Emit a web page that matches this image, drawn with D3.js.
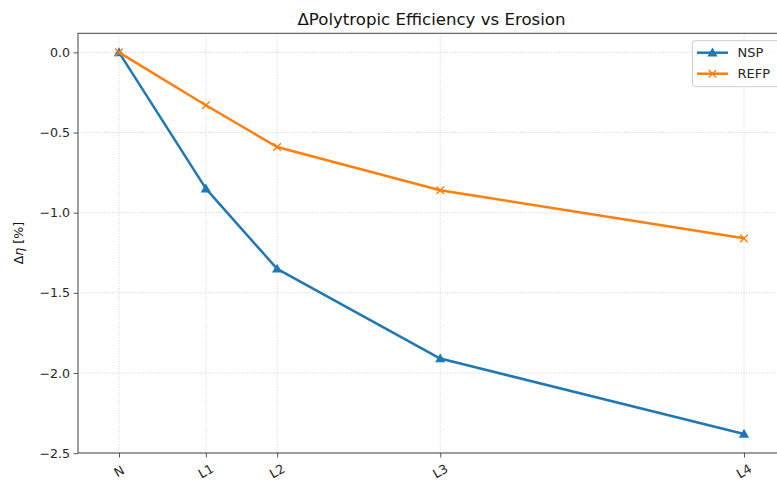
<!DOCTYPE html>
<html>
<head>
<meta charset="utf-8">
<script src="https://cdn.jsdelivr.net/npm/d3@7"></script>
<style>
  html, body { margin: 0; padding: 0; background: #fff; }
  svg { display: block; font-family: "DejaVu Sans", sans-serif; }
</style>
</head>
<body>
<svg id="chart" width="777" height="481"></svg>
<script>
// Erosion stages and their relative position along the erosion axis
const stages = ["N", "L1", "L2", "L3", "L4"];
const erosionLevel = [0, 0.139, 0.253, 0.514, 1.0];

// Change in polytropic efficiency [%]
const nspDelta = [0, -0.85, -1.35, -1.91, -2.38];
const refpDelta = [0, -0.33, -0.59, -0.86, -1.16];

const yTicks = [0, -0.5, -1.0, -1.5, -2.0, -2.5];

const series = [
  { name: "NSP", values: nspDelta, color: "#1f77b4", marker: "triangle" },
  { name: "REFP", values: refpDelta, color: "#ff7f0e", marker: "x" }
];

const plot = { left: 78, right: 785, top: 33.3, bottom: 453 };
const tickFont = "12.6px";

const svg = d3.select("#chart");

const x = d3.scaleLinear().domain([-0.0656, 1.0656]).range([plot.left, plot.right]);
const y = d3.scaleLinear().domain([-2.499, 0.119]).range([plot.bottom, plot.top]);

// grid
const grid = svg.append("g").attr("class", "grid");
grid.selectAll("line.gx").data(erosionLevel).join("line")
  .attr("x1", d => x(d)).attr("x2", d => x(d))
  .attr("y1", plot.top).attr("y2", plot.bottom)
  .attr("stroke", "#b0b0b0").attr("stroke-width", 0.8)
  .attr("stroke-dasharray", "1,1.6").attr("opacity", 0.7);
grid.selectAll("line.gy").data(yTicks).join("line")
  .attr("x1", plot.left).attr("x2", plot.right)
  .attr("y1", d => y(d)).attr("y2", d => y(d))
  .attr("stroke", "#b0b0b0").attr("stroke-width", 0.8)
  .attr("stroke-dasharray", "1,1.6").attr("opacity", 0.7);

// axes
const fmt = d => d3.format(".1f")(d).replace("-", "\u2212");
const yAxis = d3.axisLeft(y).tickValues(yTicks).tickFormat(fmt).tickSize(4.5).tickPadding(3.5);
const xAxis = d3.axisBottom(x).tickValues(erosionLevel)
  .tickFormat((d, i) => stages[i]).tickSize(4.5).tickPadding(3);

const gy = svg.append("g").attr("transform", `translate(${plot.left},0)`).call(yAxis);
const gx = svg.append("g").attr("transform", `translate(0,${plot.bottom})`).call(xAxis);
[gx, gy].forEach(g => {
  g.select(".domain").remove();
  g.selectAll(".tick line").attr("stroke", "#444").attr("stroke-width", 0.9);
  g.selectAll(".tick text").attr("fill", "#262626").style("font-size", tickFont)
    .style("font-family", "DejaVu Sans, sans-serif");
});
gx.selectAll(".tick text")
  .attr("text-anchor", "middle")
  .attr("dy", null)
  .attr("y", 0)
  .attr("transform", "translate(0,19) rotate(-30)")
  .attr("dominant-baseline", "middle");

// spines
svg.append("rect")
  .attr("x", plot.left).attr("y", plot.top)
  .attr("width", plot.right - plot.left).attr("height", plot.bottom - plot.top)
  .attr("fill", "none").attr("stroke", "#444").attr("stroke-width", 1);

// lines and markers
const line = d3.line().x((d, i) => x(erosionLevel[i])).y(d => y(d));
const tri = d3.symbol().type(d3.symbolTriangle).size(46);

series.forEach(s => {
  const g = svg.append("g");
  g.append("path").datum(s.values)
    .attr("d", line).attr("fill", "none")
    .attr("stroke", s.color).attr("stroke-width", 2.5)
    .attr("stroke-linejoin", "round");
  const pts = g.selectAll("g.pt").data(s.values).join("g")
    .attr("transform", (d, i) => `translate(${x(erosionLevel[i])},${y(d)})`);
  if (s.marker === "triangle") {
    pts.append("path").attr("d", tri).attr("fill", s.color)
      .attr("transform", "translate(0,0.8)");
  } else {
    pts.append("path").attr("d", "M-3.8,-3.8L3.8,3.8M-3.8,3.8L3.8,-3.8")
      .attr("stroke", s.color).attr("stroke-width", 1.4).attr("fill", "none");
  }
});

// title
svg.append("text")
  .attr("x", (plot.left + plot.right) / 2).attr("y", 25)
  .attr("text-anchor", "middle").attr("fill", "#111")
  .style("font-size", "16.6px")
  .text("\u0394Polytropic Efficiency vs Erosion");

// y label
const yl = svg.append("text")
  .attr("transform", `translate(23,${(plot.top + plot.bottom) / 2}) rotate(-90)`)
  .attr("text-anchor", "middle").attr("fill", "#111")
  .style("font-size", tickFont);
yl.append("tspan").text("\u0394");
yl.append("tspan").style("font-style", "italic").text("\u03b7");
yl.append("tspan").text(" [%]");

// legend
const lg = svg.append("g").attr("transform", "translate(692.5,40.7)");
lg.append("rect").attr("width", 100).attr("height", 46).attr("rx", 3)
  .attr("fill", "#fff").attr("fill-opacity", 0.8)
  .attr("stroke", "#cccccc").attr("stroke-width", 1);
series.forEach((s, i) => {
  const yy = 12 + i * 21;
  const e = lg.append("g").attr("transform", `translate(0,${yy})`);
  e.append("line").attr("x1", 4.5).attr("x2", 35.5).attr("y1", 0).attr("y2", 0)
    .attr("stroke", s.color).attr("stroke-width", 2.5);
  if (s.marker === "triangle") {
    e.append("path").attr("d", tri).attr("fill", s.color)
      .attr("transform", "translate(20,0.8)");
  } else {
    e.append("path").attr("d", "M16.2,-3.8L23.8,3.8M16.2,3.8L23.8,-3.8")
      .attr("stroke", s.color).attr("stroke-width", 1.4);
  }
  e.append("text").attr("x", 45).attr("y", 0).attr("dy", "0.35em")
    .attr("fill", "#262626").style("font-size", "13px").text(s.name);
});
</script>
</body>
</html>
